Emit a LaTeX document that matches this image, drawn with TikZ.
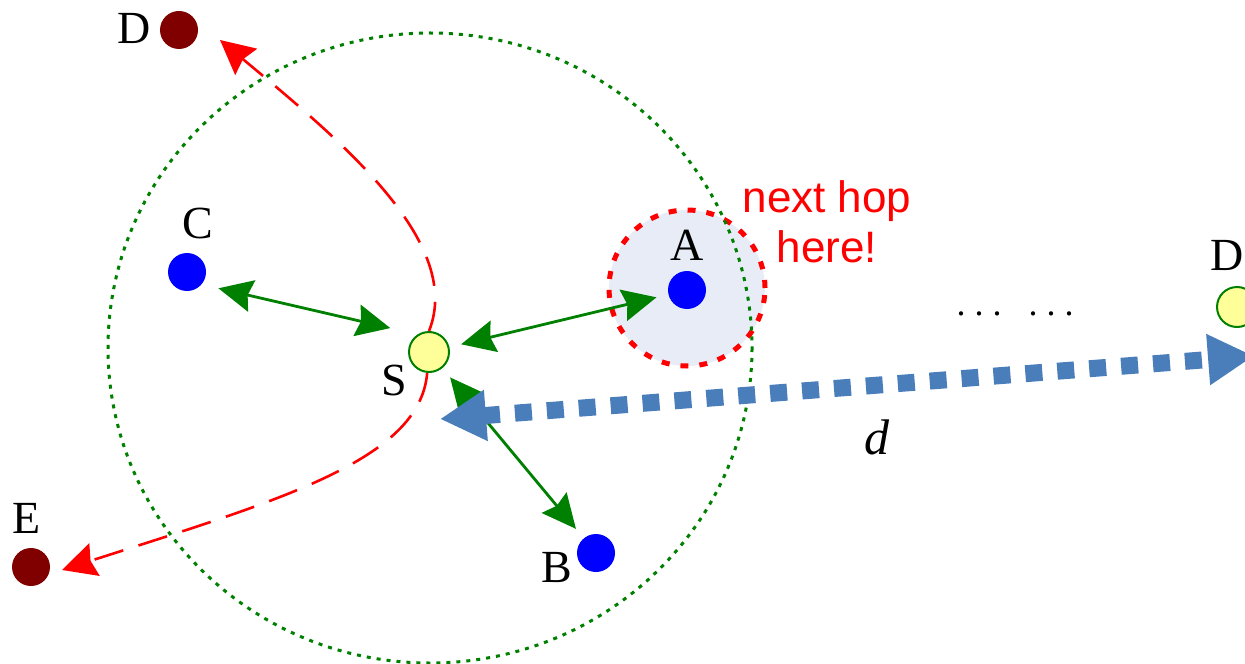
\documentclass[tikz,border=0pt]{standalone}
\usepackage{fontspec}
\setmainfont{Liberation Serif}
\newfontfamily\hopfont{Liberation Sans}
\definecolor{linkgreen}{RGB}{0, 128, 0}
\definecolor{nodeblue}{RGB}{0, 0, 255}
\definecolor{destred}{RGB}{128, 0, 0}
\definecolor{srcyellow}{RGB}{255, 255, 153}
\definecolor{rangeblue}{RGB}{74, 126, 187}
\definecolor{hopfill}{RGB}{231, 236, 247}
\usepackage{tikz}
\usetikzlibrary{arrows.meta, positioning, calc}

\begin{document}
\begin{tikzpicture}[x=0.5pt, y=-0.5pt,
  dot/.style={circle, minimum size=19pt, inner sep=0pt},
  srcdot/.style={dot, fill=srcyellow, draw=linkgreen, line width=1pt, minimum size=20pt},
  lbl/.style={font=\fontsize{23}{26}\selectfont, inner sep=0pt},
  link/.style={draw=linkgreen, line width=1.4pt, shorten <=6pt, shorten >=6pt,
    {Stealth[length=17pt, width=16pt, inset=2pt]}-{Stealth[length=17pt, width=16pt, inset=2pt]}},
  route/.style={draw=red, line width=1.3pt, dash pattern=on 15pt off 8pt,
    -{Stealth[length=17pt, width=17pt, inset=2pt]}},
  hopzone/.style={circle, minimum size=78pt, fill=hopfill, draw=red, line width=2.5pt,
    dash pattern=on 4pt off 5.5pt},
  rangeline/.style={draw=rangeblue, line width=8.5pt, dash pattern=on 8.5pt off 7.5pt,
    {Triangle[length=23pt, width=24pt]}-{Triangle[length=23pt, width=24pt]}}
]
  \useasboundingbox (0,0) rectangle (1245,663);
  \clip (0,0) rectangle (1245,663);

  \node[hopzone] (hop) at (687,288) {};
  \draw[linkgreen, line width=1.5pt, dash pattern=on 2pt off 3pt] (430,348) ellipse [x radius=322, y radius=315];

  \node[srcdot] (S) at (429,352) {};
  \node[dot, fill=nodeblue] (A) at (687,290) {};
  \node[dot, fill=nodeblue] (B) at (596,553) {};
  \node[dot, fill=nodeblue] (C) at (187,272) {};
  \node[dot, fill=destred] (D) at (179,30) {};
  \node[dot, fill=destred] (E) at (31,567) {};
  \node[srcdot] (Dfar) at (1237,307) {};

  \node[lbl] (labS) at (394,380) {S};
  \node[lbl] (labA) at (687,245) {A};
  \node[lbl] (labB) at (557,567) {B};
  \node[lbl] (labC) at (198,223) {C};
  \node[lbl] (labD) at (134,28) {D};
  \node[lbl] (labE) at (27,518) {E};
  \node[lbl] (labDfar) at (1227,255) {D};

  \node[text=red, align=center, inner sep=0pt, font=\hopfont\fontsize{22}{25}\selectfont] (note) at (827,222) {next hop\\here!};
  \node[anchor=base, inner sep=0pt, font=\fontsize{18}{20}\selectfont] (more) at (1015,315) {.\ .\ .\ \ \ .\ .\ .};
  \node[inner sep=0pt, font=\fontsize{25}{28}\selectfont\itshape] (dist) at (877,437) {d};

  \coordinate (Dtip) at (220,40);
  \coordinate (Etip) at (62,570);
  \draw[route] (S.north) .. controls (465,241) and (335,136) .. (Dtip);
  \draw[route] (S.265) .. controls (420,460) and (280,500) .. (Etip);

  \draw[link, shorten <=8.5pt, shorten >=14pt] (C.-40) -- (S.123);
  \draw[link] (S) -- (A);
  \draw[link] (S) -- (B);

  \coordinate (dnear) at (440,419);
  \coordinate (dfar) at (1254,356);
  \draw[rangeline] (dnear) -- (dfar);
\end{tikzpicture}
\end{document}
